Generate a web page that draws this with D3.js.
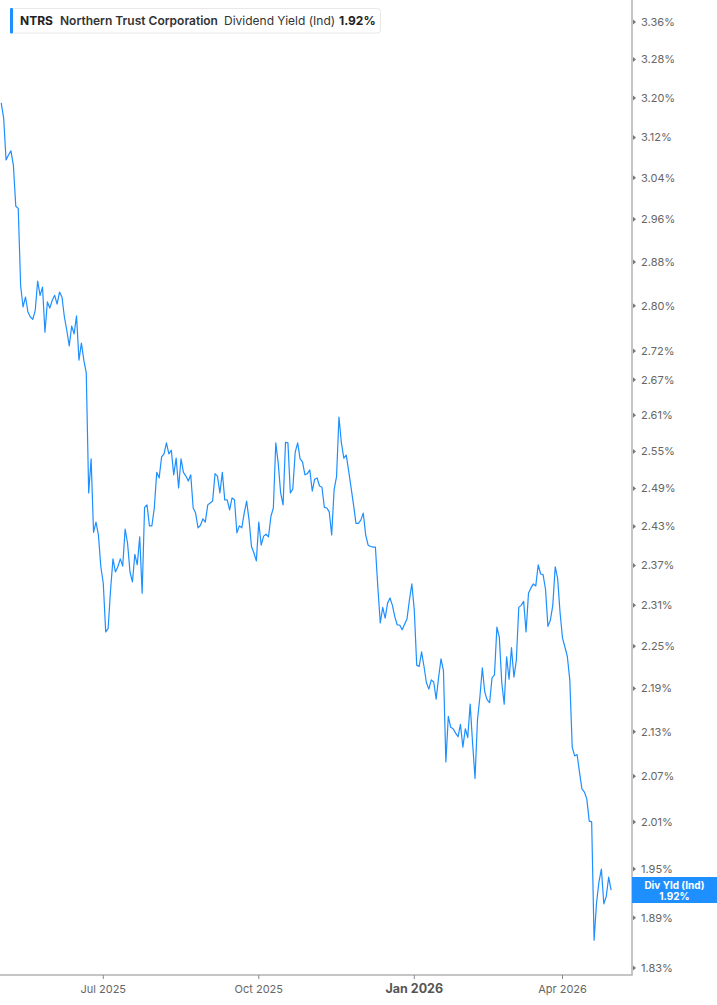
<!DOCTYPE html>
<html><head><meta charset="utf-8">
<script src="https://cdn.jsdelivr.net/npm/d3@7"></script>
<style>
body{margin:0;background:#fff;}
svg{display:block;font-family:Inter,"Noto Sans","DejaVu Sans",sans-serif;}
</style>
</head><body>
<svg id="c" width="717" height="1005"></svg>
<script>
// ---------- DATA ----------
const startDate = "2025-04-30";
const endDate = "2026-04-30";
const holidays = ["2025-05-26","2025-06-19","2025-07-04","2025-09-01","2025-11-27","2025-12-25","2026-01-01","2026-01-19","2026-02-16","2026-04-03"];
const yields = [
3.190,3.159,3.075,3.085,3.093,3.065,2.985,2.981,2.836,2.798,
2.816,2.789,2.780,2.776,2.792,2.845,2.819,2.834,2.753,2.807,
2.796,2.810,2.819,2.803,2.825,2.816,2.780,2.756,2.729,2.764,
2.750,2.782,2.704,2.734,2.704,2.682,2.483,2.538,2.421,2.437,
2.417,2.368,2.343,2.271,2.276,2.333,2.380,2.360,2.368,2.380,
2.369,2.426,2.404,2.360,2.345,2.387,2.371,2.414,2.328,2.460,
2.464,2.431,2.431,2.459,2.516,2.507,2.541,2.546,2.564,2.546,
2.552,2.512,2.539,2.491,2.538,2.516,2.510,2.502,2.512,2.459,
2.451,2.428,2.432,2.442,2.437,2.464,2.467,2.470,2.514,2.510,
2.483,2.516,2.472,2.472,2.456,2.475,2.472,2.420,2.431,2.428,
2.451,2.470,2.440,2.399,2.389,2.377,2.437,2.401,2.415,2.418,
2.414,2.446,2.459,2.564,2.531,2.483,2.464,2.565,2.564,2.483,
2.489,2.549,2.564,2.538,2.533,2.512,2.514,2.520,2.486,2.505,
2.507,2.494,2.492,2.460,2.459,2.453,2.417,2.488,2.509,2.607,
2.564,2.539,2.544,2.518,2.491,2.464,2.435,2.435,2.440,2.451,
2.417,2.401,2.399,2.398,2.398,2.337,2.284,2.307,2.291,2.313,
2.321,2.310,2.293,2.281,2.281,2.274,2.282,2.290,2.318,2.342,
2.303,2.223,2.221,2.242,2.221,2.198,2.189,2.202,2.199,2.175,
2.205,2.232,2.215,2.089,2.151,2.136,2.134,2.128,2.123,2.140,
2.109,2.134,2.122,2.168,2.114,2.067,2.146,2.178,2.219,2.185,
2.174,2.170,2.205,2.209,2.278,2.263,2.198,2.168,2.235,2.203,
2.248,2.206,2.230,2.307,2.310,2.316,2.271,2.328,2.336,2.342,
2.339,2.371,2.357,2.356,2.334,2.279,2.288,2.310,2.368,2.350,
2.299,2.262,2.249,2.235,2.202,2.109,2.097,2.099,2.075,2.053,
2.049,2.040,2.011,2.010,1.863,1.908,1.934,1.950,1.907,1.916,
1.940,1.924
];
const yTicks = [3.36,3.28,3.20,3.12,3.04,2.96,2.88,2.80,2.72,2.67,2.61,2.55,2.49,2.43,2.37,2.31,2.25,2.19,2.13,2.07,2.01,1.95,1.89,1.83];
const xTickMonths = ["2025-07","2025-10","2026-01","2026-04"];
const xTickLabels = ["Jul 2025","Oct 2025","Jan 2026","Apr 2026"];
const xTickBold = [false,false,true,false];
const ticker = "NTRS";
const company = "Northern Trust Corporation";
const metric = "Dividend Yield (Ind)";
const badgeLabel = "Div Yld (Ind)";

// ---------- BUILD ----------
const fmt = d3.utcFormat("%Y-%m-%d");
const days = d3.utcDay.range(new Date(startDate+"T00:00:00Z"), d3.utcDay.offset(new Date(endDate+"T00:00:00Z"),1))
  .filter(d => d.getUTCDay()%6 !== 0 && !holidays.includes(fmt(d)));
const data = yields.map((v,i)=>({date:days[i], i, v}));

const W = 717, H = 1005;
const plotR = 632, plotB = 975;
const svg = d3.select("#c");

const x = d3.scaleLinear().domain([-0.5, 259.6]).range([0, plotR]);
const y = d3.scaleLog().domain([1.83, 3.36]).range([968, 22]);

const lineCol = "#1e8fff";
const axisCol = "#b3b3b3";
const textCol = "#666";

svg.append("defs").append("clipPath").attr("id","clip")
  .append("rect").attr("x",0).attr("y",0).attr("width",plotR).attr("height",plotB);

// line
svg.append("path").datum(data)
  .attr("clip-path","url(#clip)")
  .attr("fill","none").attr("stroke",lineCol).attr("stroke-width",1.2)
  .attr("stroke-linejoin","round")
  .attr("d", d3.line().x(d=>x(d.i)).y(d=>y(d.v)));

// axes lines
svg.append("path").attr("d",`M${plotR},0V${plotB}H0`).attr("fill","none")
  .attr("stroke",axisCol).attr("stroke-width",1.5);

// y ticks
const yg = svg.append("g");
yTicks.forEach(t=>{
  const yy = y(t);
  yg.append("path").attr("d",`M${plotR+1},${yy-2.5}L${plotR+4},${yy}L${plotR+1},${yy+2.5}Z`).attr("fill","#777");
  yg.append("text").attr("x",641).attr("y",yy).attr("dy","0.35em")
    .attr("font-size",11).attr("fill",textCol).text(d3.format(".2f")(t)+"%");
});

// x ticks
const xg = svg.append("g");
xTickMonths.forEach((m,k)=>{
  const idx = days.findIndex(d=>fmt(d).startsWith(m));
  const xx = x(idx);
  xg.append("line").attr("x1",xx).attr("x2",xx).attr("y1",plotB).attr("y2",plotB+4)
    .attr("stroke","#888").attr("stroke-width",1);
  xg.append("text").attr("x",xx).attr("y",993).attr("text-anchor","middle")
    .attr("font-size",xTickBold[k]?12.5:11).attr("font-weight",xTickBold[k]?700:400)
    .attr("fill",xTickBold[k]?"#555":textCol).text(xTickLabels[k]);
});

// legend
const last = yields[yields.length-1];
const lastTxt = d3.format(".2f")(last)+"%";
const lg = svg.append("g");
lg.append("rect").attr("x",10.5).attr("y",8.5).attr("width",370).attr("height",24.5).attr("rx",3)
  .attr("fill","#fff").attr("stroke","#e8e8e8");
lg.append("rect").attr("x",10).attr("y",8).attr("width",3).attr("height",25.5).attr("rx",1).attr("fill",lineCol);
const ly = 25;
lg.append("text").attr("x",20).attr("y",ly).attr("font-size",12).attr("font-weight",700).attr("fill","#222").text(ticker);
lg.append("text").attr("x",60).attr("y",ly).attr("font-size",12).attr("font-weight",600).attr("fill","#333").text(company);
lg.append("text").attr("x",224).attr("y",ly).attr("font-size",12).attr("font-weight",400).attr("fill","#333").text(metric);
lg.append("text").attr("x",339).attr("y",ly).attr("font-size",12).attr("font-weight",700).attr("fill","#222").text(lastTxt);

// badge
const by = y(last);
const bg = svg.append("g");
bg.append("rect").attr("x",plotR).attr("y",by-13).attr("width",W-plotR).attr("height",26).attr("fill",lineCol);
bg.append("text").attr("x",(plotR+W)/2).attr("y",by-1.5).attr("text-anchor","middle")
  .attr("font-size",10).attr("font-weight",700).attr("fill","#fff").text(badgeLabel);
bg.append("text").attr("x",(plotR+W)/2).attr("y",by+9.5).attr("text-anchor","middle")
  .attr("font-size",10).attr("font-weight",700).attr("fill","#fff").text(lastTxt);
</script>
</body></html>
